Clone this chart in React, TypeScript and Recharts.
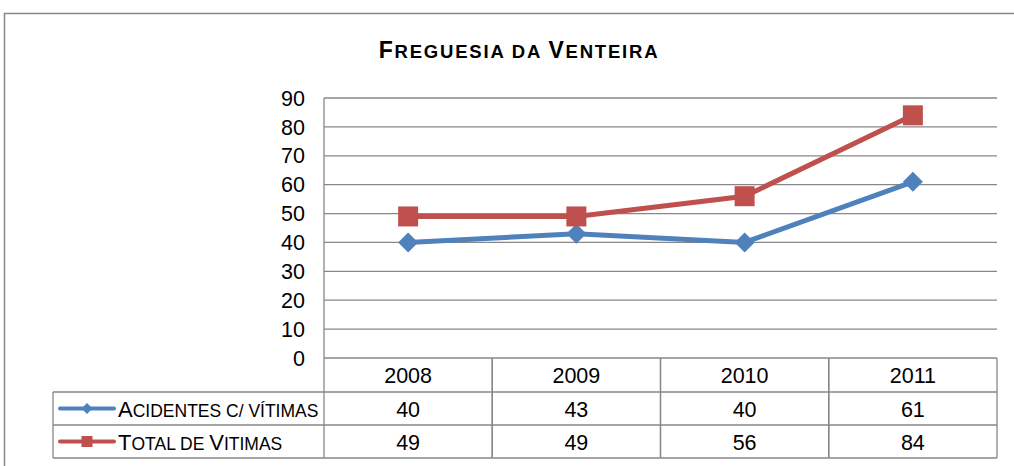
import { LineChart, Line, XAxis, YAxis, CartesianGrid } from "recharts";

const TITLE = "Freguesia da Venteira";
const YEARS = ["2008", "2009", "2010", "2011"];
const ACIDENTES = [40, 43, 40, 61];
const TOTAL = [49, 49, 56, 84];
const Y_TICKS = [0, 10, 20, 30, 40, 50, 60, 70, 80, 90];

const SERIES = [
  { key: "acidentes", name: "Acidentes c/ vítimas", color: "#4F81BD", values: ACIDENTES, shape: "diamond" },
  { key: "total", name: "Total de Vitimas", color: "#C0504D", values: TOTAL, shape: "square" },
];

const data = YEARS.map((year, i) => ({ year, acidentes: ACIDENTES[i], total: TOTAL[i] }));

const W = 1014;
const H = 466;
const PLOT_LEFT = 324;
const PLOT_RIGHT = 997;
const PLOT_TOP = 98;
const PLOT_BOTTOM = 358;
const YAXIS_W = 60;
const XAXIS_H = 100;
const HALF = (PLOT_RIGHT - PLOT_LEFT) / YEARS.length / 2;
const ROWS = [0, 34, 67, 100];
const TABLE_LEFT = 53;
const GRID = "#878787";
const FONT = "'Liberation Sans', Arial, sans-serif";
const NUM_SIZE = 21.5;

// Word-style small caps: lowercase letters drawn as smaller capitals
function smallCaps(text: string, big: number, small: number) {
  const runs: { size: number; s: string }[] = [];
  for (const ch of text) {
    const up = ch.toUpperCase();
    const isCap = ch === up && ch !== ch.toLowerCase();
    const size = isCap ? big : small;
    const last = runs[runs.length - 1];
    if (last && last.size === size) last.s += up;
    else runs.push({ size, s: up });
  }
  return runs.map((r, i) => (
    <tspan key={i} fontSize={r.size}>
      {r.s}
    </tspan>
  ));
}

function Marker({ shape, cx, cy, r, color }: { shape: string; cx: number; cy: number; r: number; color: string }) {
  if (shape === "diamond") {
    return <path d={`M${cx},${cy - r}L${cx + r},${cy}L${cx},${cy + r}L${cx - r},${cy}Z`} fill={color} />;
  }
  return <rect x={cx - r} y={cy - r} width={r * 2} height={r * 2} fill={color} />;
}

function makeDot(shape: string, color: string) {
  return (props: any) => {
    const { cx, cy, index } = props;
    if (cx == null || cy == null) return <g key={`e-${index}`} />;
    return (
      <g key={`${shape}-${index}`}>
        <Marker shape={shape} cx={cx} cy={cy} r={10} color={color} />
      </g>
    );
  };
}

function TableTick(props: any) {
  const { x, y, payload } = props;
  const i = YEARS.indexOf(String(payload.value));
  const l = x - HALF;
  const r = x + HALF;
  const line = { stroke: GRID, strokeWidth: 1.3 };
  return (
    <g fontFamily={FONT} fill="#000">
      <line x1={l} x2={l} y1={y} y2={y + ROWS[3]} {...line} />
      <line x1={r} x2={r} y1={y} y2={y + ROWS[3]} {...line} />
      {ROWS.slice(1).map((dy) => (
        <line key={dy} x1={l} x2={r} y1={y + dy} y2={y + dy} {...line} />
      ))}
      <text x={x} y={y + 25} textAnchor="middle" fontSize={NUM_SIZE}>
        {payload.value}
      </text>
      {SERIES.map((s, k) => (
        <text key={s.key} x={x} y={y + ROWS[k + 1] + 25} textAnchor="middle" fontSize={NUM_SIZE}>
          {s.values[i]}
        </text>
      ))}
      {i === 0 && (
        <g>
          <line x1={TABLE_LEFT} x2={TABLE_LEFT} y1={y + ROWS[1]} y2={y + ROWS[3]} {...line} />
          {ROWS.slice(1).map((dy) => (
            <line key={dy} x1={TABLE_LEFT} x2={l} y1={y + dy} y2={y + dy} {...line} />
          ))}
          {SERIES.map((s, k) => {
            const cy = y + (ROWS[k + 1] + ROWS[k + 2]) / 2;
            return (
              <g key={s.key}>
                <line x1={60} x2={114} y1={cy} y2={cy} stroke={s.color} strokeWidth={4} strokeLinecap="round" />
                <Marker shape={s.shape} cx={87} cy={cy} r={5.5} color={s.color} />
                <text x={118} y={cy + 8} style={{ whiteSpace: "pre" }}>
                  {smallCaps(s.name, 22, 17.5)}
                </text>
              </g>
            );
          })}
        </g>
      )}
    </g>
  );
}

export default function App() {
  return (
    <div style={{ position: "absolute", left: 0, top: 0, width: W, height: H, background: "#fff" }}>
      <svg width={W} height={H} style={{ position: "absolute", left: 0, top: 0 }}>
        <rect x={4.5} y={13.5} width={W + 20} height={H + 20} fill="none" stroke={GRID} strokeWidth={1.5} />
        <text
          x={519}
          y={58}
          textAnchor="middle"
          fontFamily={FONT}
          fontWeight="bold"
          letterSpacing={1.8}
          style={{ whiteSpace: "pre" }}
        >
          {smallCaps(TITLE, 23, 18.5)}
        </text>
      </svg>
      <div style={{ position: "absolute", left: 0, top: 0 }}>
        <LineChart
          width={W}
          height={H}
          data={data}
          margin={{ top: PLOT_TOP, right: W - PLOT_RIGHT, left: PLOT_LEFT - YAXIS_W, bottom: H - PLOT_BOTTOM - XAXIS_H }}
        >
          <CartesianGrid vertical={false} stroke={GRID} strokeWidth={1.3} />
          <XAxis
            dataKey="year"
            height={XAXIS_H}
            padding={{ left: HALF, right: HALF }}
            axisLine={false}
            tickLine={false}
            tickSize={0}
            tickMargin={0}
            interval={0}
            tick={<TableTick />}
          />
          <YAxis
            width={YAXIS_W}
            domain={[0, 90]}
            ticks={Y_TICKS}
            interval={0}
            axisLine={{ stroke: GRID, strokeWidth: 1.3 }}
            tickLine={false}
            tickSize={0}
            tickMargin={19}
            tick={{ fontSize: NUM_SIZE, fill: "#000", fontFamily: FONT }}
          />
          {SERIES.map((s) => (
            <Line
              key={s.key}
              dataKey={s.key}
              name={s.name}
              stroke={s.color}
              strokeWidth={5}
              dot={makeDot(s.shape, s.color)}
              activeDot={false}
              isAnimationActive={false}
            />
          ))}
        </LineChart>
      </div>
    </div>
  );
}
